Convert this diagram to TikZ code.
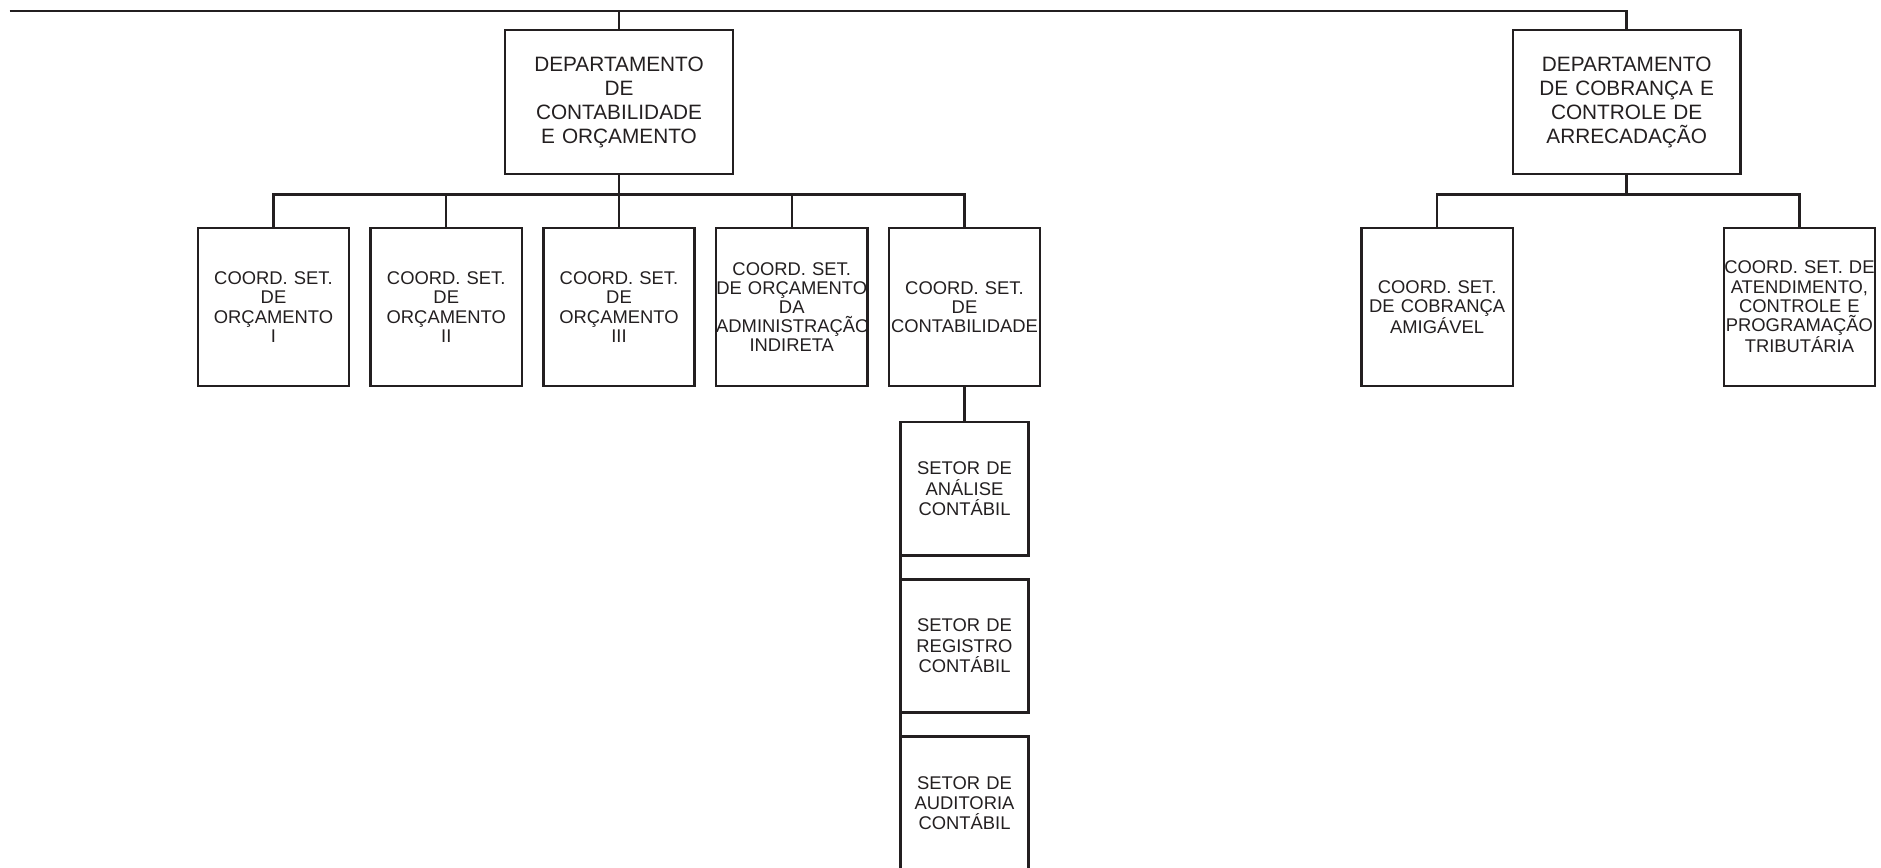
\documentclass[tikz,border=0pt]{standalone}
\usepackage{fontspec}
\setmainfont{Liberation Sans}
\usetikzlibrary{positioning}
\definecolor{inkgray}{HTML}{231F20}

\begin{document}
\begin{tikzpicture}[
x=0.75pt, y=0.75pt,
deptbox/.style={draw=inkgray, text=inkgray, line width=1.5pt, outer sep=0pt, text width=142.5pt, inner xsep=0pt, minimum height=90pt, align=center, font=\fontsize{13}{15}\selectfont},
coordbox/.style={draw=inkgray, text=inkgray, line width=1.5pt, outer sep=0pt, text width=94.5pt, inner xsep=0pt, minimum height=99pt, align=center, font=\fontsize{11.5}{12}\selectfont},
setorbox/.style={draw=inkgray, text=inkgray, line width=1.5pt, outer sep=0pt, text width=80.25pt, inner xsep=0pt, minimum height=83.25pt, align=center, font=\fontsize{11.5}{12.75}\selectfont},
link/.style={draw=inkgray, line width=1.5pt}
]
\useasboundingbox (0,0) rectangle (1568,-723);

%Departments
\node[deptbox]   (dc)   at (516,-85)     {DEPARTAMENTO\\DE\\CONTABILIDADE\\E ORÇAMENTO};
\node[deptbox]   (dr)   at (1356,-85)    {DEPARTAMENTO\\DE COBRANÇA E\\CONTROLE DE\\ARRECADAÇÃO};

%Coordinations
\node[coordbox]  (c3)   [below=33.75pt of dc]  {COORD. SET.\\DE\\ORÇAMENTO\\III};
\node[coordbox]  (c2)   [left=13.5pt of c3]    {COORD. SET.\\DE\\ORÇAMENTO\\II};
\node[coordbox]  (c1)   [left=13.5pt of c2]    {COORD. SET.\\DE\\ORÇAMENTO\\I};
\node[coordbox]  (c4)   [right=13.5pt of c3]   {COORD. SET.\\DE ORÇAMENTO\\DA\\ADMINISTRAÇÃO\\INDIRETA};
\node[coordbox]  (c5)   [right=13.5pt of c4]   {COORD. SET.\\DE\\CONTABILIDADE};

\node[coordbox]  (ca)   at (1198,-256)   {COORD. SET.\\DE COBRANÇA\\AMIGÁVEL};
\node[coordbox]  (cb)   at (1500,-256)   {COORD. SET. DE\\ATENDIMENTO,\\CONTROLE E\\PROGRAMAÇÃO\\TRIBUTÁRIA};

%Sectors
\node[setorbox]  (s1)   [below=22.5pt of c5]   {SETOR DE\\ANÁLISE\\CONTÁBIL};
\node[setorbox]  (s2)   [below=15pt of s1]     {SETOR DE\\REGISTRO\\CONTÁBIL};
\node[setorbox]  (s3)   [below=15pt of s2]     {SETOR DE\\AUDITORIA\\CONTÁBIL};

%Lines
\coordinate (topl) at (8,-9);
\draw[link] (topl) -- (topl -| dr.north) -- (dr.north);
\draw[link] (topl -| dc.north) -- (dc.north);

\foreach \c in {c1,c2,c3,c4,c5}
  \draw[link] (dc.south) -- ++(0,-12.75pt) -| (\c.north);
\foreach \c in {ca,cb}
  \draw[link] (dr.south) -- ++(0,-12.75pt) -| (\c.north);

\draw[link] (c5.south) -- (s1.north);
\draw[link] (s1.south west) -- (s2.north west);
\draw[link] (s2.south west) -- (s3.north west);

\end{tikzpicture}
\end{document}
